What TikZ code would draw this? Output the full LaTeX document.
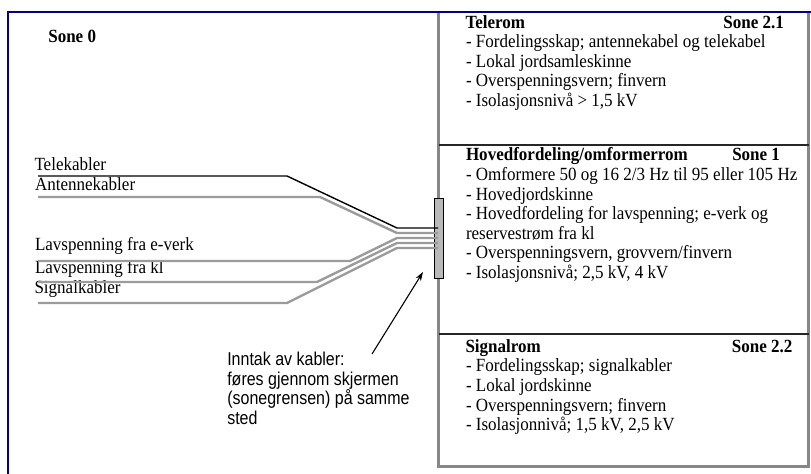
\documentclass[tikz,border=0pt]{standalone}
\usepackage{fontspec}
\setmainfont[FakeStretch=0.915]{Liberation Serif}
\newfontfamily\narrowsans[FakeStretch=0.86]{Liberation Sans}
\usetikzlibrary{arrows.meta}
\definecolor{framecol}{RGB}{0,0,140}
\definecolor{boxgray}{RGB}{135,135,135}
\definecolor{cablegray}{RGB}{155,155,155}
\definecolor{barfill}{RGB}{185,185,185}
\begin{document}
\begin{tikzpicture}[x=1bp,y=-1bp,
  every node/.style={inner sep=0pt,outer sep=0pt},
  txt/.style={anchor=base west,font=\fontsize{18.6bp}{19.5bp}\selectfont},
  ttl/.style={anchor=base west,font=\fontsize{18.6bp}{19.5bp}\selectfont\bfseries},
  sone/.style={anchor=base east,font=\fontsize{18.6bp}{19.5bp}\selectfont\bfseries},
  note/.style={anchor=base west,font=\fontsize{18.6bp}{19.5bp}\narrowsans},
  frameline/.style={draw=framecol,line width=2.5bp},
  boxline/.style={draw=boxgray,line width=2.5bp},
  divline/.style={draw=black!85,line width=1.6bp},
  blackcable/.style={draw=black,line width=1.4bp},
  graycable/.style={draw=cablegray,line width=2.4bp},
  screenbar/.style={draw=black,line width=1bp,fill=barfill,minimum width=9bp,minimum height=80bp}
]
\useasboundingbox (0,0) rectangle (811,474);
\fill[white] (0,0) rectangle (811,474);

% outer blue frame (right and bottom edges lie outside the picture)
\coordinate (fTL) at (8,12);
\coordinate (fBL) at (8,474);
\coordinate (fTR) at (811,12);
\draw[frameline] (fBL) -- (fTL) -- (fTR);

% room column
\coordinate (bTL) at (438.5,13);
\coordinate (bBL) at (438.5,466.5);
\coordinate (bBR) at (808.5,466.5);
\coordinate (bTR) at (808.5,13);
\draw[boxline] (bTL) -- (bBL) -- (bBR) -- (bTR);
\coordinate (d1L) at (438.5,145);
\coordinate (d1R) at (808.5,145);
\coordinate (d2L) at (438.5,334);
\coordinate (d2R) at (808.5,334);
\draw[divline] (d1L) -- (d1R);
\draw[divline] (d2L) -- (d2R);

% Sone 0
\node[ttl] (sone0) at (48.3,42.7) {Sone 0};

% Telerom
\node[ttl] (telerom) at (465.5,28.3) {Telerom};
\node[sone] (sone21) at (784,28.3) {Sone 2.1};
\node[txt] (t1) at (466,48) {- Fordelingsskap; antennekabel og telekabel};
\node[txt] (t2) at (466,67.5) {- Lokal jordsamleskinne};
\node[txt] (t3) at (466,87) {- Overspenningsvern; finvern};
\node[txt] (t4) at (466,106.5) {- Isolasjonsnivå > 1,5 kV};

% Hovedfordeling
\node[ttl] (hoved) at (466,160.7) {Hovedfordeling/omformerrom};
\node[sone] (sone1) at (780,160.7) {Sone 1};
\node[txt] (h1) at (466,180.4) {- Omformere 50 og 16 2/3 Hz til 95 eller 105 Hz};
\node[txt] (h2) at (466,200.1) {- Hovedjordskinne};
\node[txt] (h3) at (466,219.8) {- Hovedfordeling for lavspenning; e-verk og};
\node[txt] (h4) at (466,239.4) {reservestrøm fra kl};
\node[txt] (h5) at (466,259) {- Overspenningsvern, grovvern/finvern};
\node[txt] (h6) at (466,278.5) {- Isolasjonsnivå; 2,5 kV, 4 kV};

% Signalrom
\node[ttl] (signalrom) at (465.5,352.3) {Signalrom};
\node[sone] (sone22) at (792.5,352.3) {Sone 2.2};
\node[txt] (s1) at (466,372) {- Fordelingsskap; signalkabler};
\node[txt] (s2) at (466,391.6) {- Lokal jordskinne};
\node[txt] (s3) at (466,411.2) {- Overspenningsvern; finvern};
\node[txt] (s4) at (466,430.8) {- Isolasjonnivå; 1,5 kV, 2,5 kV};

% cable labels
\node[txt] (lTele) at (34.5,170.7) {Telekabler};
\node[txt] (lAnt) at (35,190.7) {Antennekabler};
\node[txt] (lEverk) at (35,251) {Lavspenning fra e-verk};
\node[txt] (lKl) at (35,274) {Lavspenning fra kl};
\node[txt] (lSig) at (34.5,294) {Signalkabler};

% screen (cable entry bar)
\node[screenbar] (bar) at (438.5,239) {};

% cables
\coordinate (a1) at (38,176);  \coordinate (b1) at (287,176);
\coordinate (c1) at (397,228); \coordinate (e1) at (438,228);
\coordinate (a2) at (38,197);  \coordinate (b2) at (320,197);
\coordinate (c2) at (397,233); \coordinate (e2) at (438,233);
\coordinate (a3) at (38,261);  \coordinate (b3) at (350,261);
\coordinate (c3) at (397,238); \coordinate (e3) at (438,238);
\coordinate (a4) at (38,282);  \coordinate (b4) at (317,282);
\coordinate (c4) at (397,243); \coordinate (e4) at (438,243);
\coordinate (a5) at (38,303);  \coordinate (b5) at (287,303);
\coordinate (c5) at (397,248); \coordinate (e5) at (438,248);
\draw[graycable] (a2) -- (b2) -- (c2) -- (e2);
\draw[graycable] (a3) -- (b3) -- (c3) -- (e3);
\draw[graycable] (a4) -- (b4) -- (c4) -- (e4);
\draw[graycable] (a5) -- (b5) -- (c5) -- (e5);
\draw[blackcable] (a1) -- (b1) -- (c1) -- (e1);

% note and arrow
\node[note] (n1) at (227.3,365.5) {Inntak av kabler:};
\node[note] (n2) at (227.3,385.2) {føres gjennom skjermen};
\node[note] (n3) at (227.3,404.9) {(sonegrensen) på samme};
\node[note] (n4) at (227.3,424.6) {sted};
\coordinate (arrtail) at (372,354);
\coordinate (arrtip) at (423,272);
\draw[line width=1.1bp,-{Stealth[length=9bp,width=6bp]}] (arrtail) -- (arrtip);
\end{tikzpicture}
\end{document}
